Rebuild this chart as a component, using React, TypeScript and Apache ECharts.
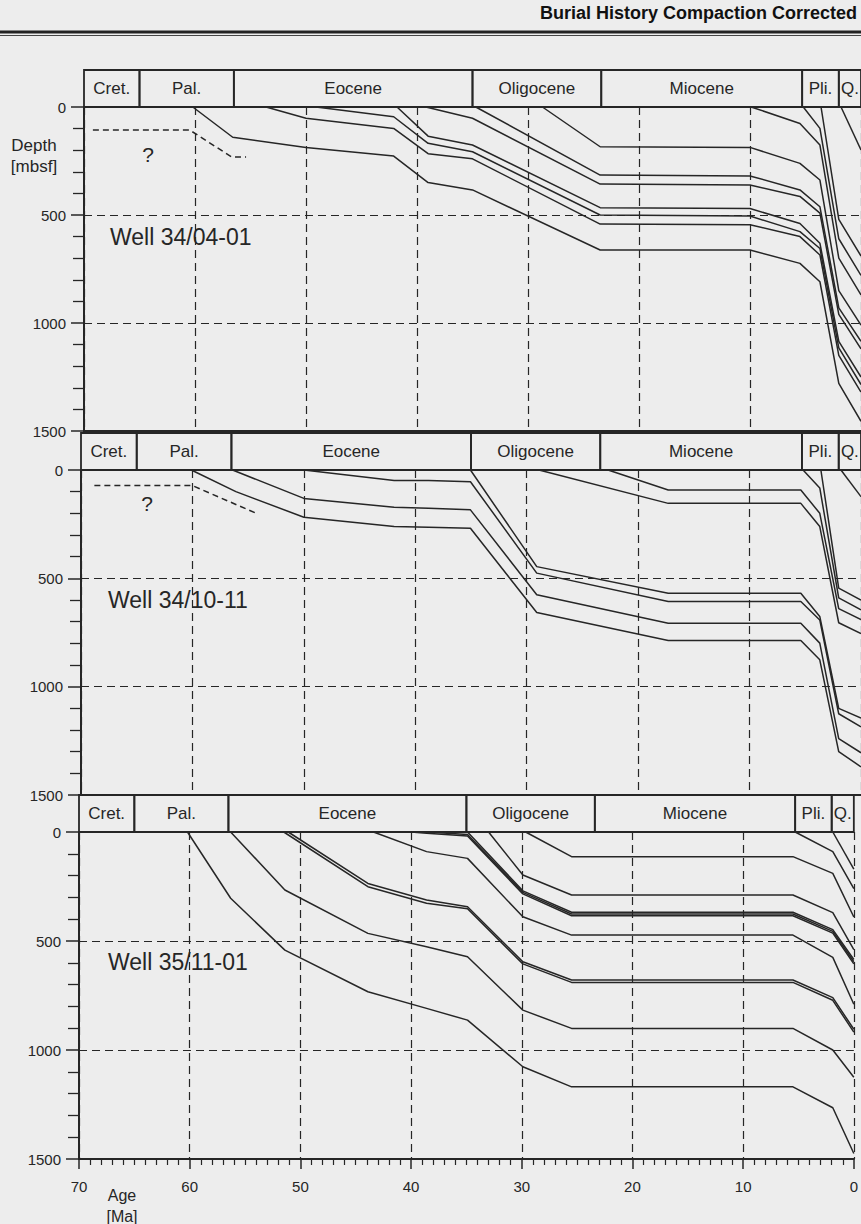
import React, { useEffect, useRef } from 'react';
import * as echarts from 'echarts';

// ---------- data ----------
const epochNames = ['Cret.', 'Pal.', 'Eocene', 'Oligocene', 'Miocene', 'Pli.', 'Q.'];
const epochOlder = [70, 65, 56.5, 35, 23.4, 5.3, 2.0];
const epochYounger = [65, 56.5, 35, 23.4, 5.3, 2.0, 0];

const wellNames = ['Well 34/04-01', 'Well 34/10-11', 'Well 35/11-01'];

// [age Ma, depth mbsf]
const well1Horizons = [
  [[60.2, 0], [56.6, 140], [50, 187], [42.1, 227], [39, 350], [35, 384], [23.5, 662], [10, 662], [5.5, 724], [3.7, 809], [2.0, 1280], [0, 1455]],
  [[53.6, 0], [50, 52], [42.1, 99], [39, 216], [35, 240], [23.5, 542], [10, 545], [5.5, 600], [3.7, 685], [2.0, 1150], [0, 1320]],
  [[49.1, 0], [42.1, 45], [39, 168], [35, 207], [23.5, 500], [10, 505], [5.5, 577], [3.7, 655], [2.0, 1115], [0, 1285]],
  [[41.8, 0], [39, 135], [35, 176], [23.5, 466], [10, 470], [5.5, 539], [3.7, 631], [2.0, 1085], [0, 1250]],
  [[39.2, 0], [35, 52], [23.5, 357], [10, 361], [5.5, 414], [3.7, 491], [2.0, 960], [0, 1120]],
  [[34.7, 0], [23.5, 315], [10, 319], [5.5, 384], [3.7, 462], [2.0, 930], [0, 1085]],
  [[28.7, 0], [23.5, 184], [10, 187], [5.5, 261], [3.7, 338], [2.0, 850], [0, 1010]],
  [[9.9, 0], [5.5, 76], [3.7, 176], [2.0, 700], [0, 870]],
  [[5.2, 0], [3.7, 99], [2.0, 610], [0, 780]],
  [[3.6, 0], [2.0, 520], [0, 690]],
  [[1.8, 0], [0, 199]],
];
const well1Uncertain = [[69.2, 106], [60.5, 106], [56.7, 231], [55.4, 231]];

const well2Horizons = [
  [[60.1, 0], [56.1, 100], [50, 218], [41.9, 261], [38.8, 264], [35.05, 269], [29.1, 658], [17.3, 787], [5.4, 787], [3.7, 876], [2.0, 1300], [0, 1370]],
  [[56.4, 0], [50, 131], [41.9, 172], [38.8, 176], [35.05, 184], [29.1, 576], [17.3, 707], [5.4, 707], [3.7, 799], [2.0, 1240], [0, 1305]],
  [[50, 0], [41.9, 49], [38.8, 49], [35.05, 54], [29.1, 476], [17.3, 607], [5.4, 607], [3.7, 692], [2.0, 1125], [0, 1185]],
  [[35.05, 0], [29.1, 446], [17.3, 569], [5.4, 569], [3.7, 676], [2.0, 1100], [0, 1145]],
  [[28.9, 0], [17.3, 154], [5.4, 154], [3.7, 261], [2.0, 705], [0, 755]],
  [[22.7, 0], [17.3, 92], [5.4, 92], [3.7, 200], [2.0, 640], [0, 690]],
  [[5.2, 0], [3.7, 83], [2.0, 590], [0, 645]],
  [[3.6, 0], [2.0, 545], [0, 600]],
  [[1.8, 0], [0, 123]],
];
const well2Uncertain = [[68.8, 72], [60.0, 72], [54.4, 197]];

const well3Horizons = [
  [[60.2, 0], [56.3, 304], [51.4, 542], [43.9, 733], [38.6, 809], [34.9, 863], [29.9, 1077], [25.5, 1169], [5.5, 1169], [1.9, 1265], [0, 1475]],
  [[56.3, 0], [51.4, 266], [43.9, 465], [38.6, 526], [34.9, 572], [29.9, 817], [25.5, 901], [5.5, 901], [1.9, 1000], [0, 1125]],
  [[51.5, 0], [43.9, 251], [38.6, 327], [34.9, 352], [29.9, 605], [25.5, 690], [5.5, 690], [1.9, 772], [0, 918]],
  [[51.1, 0], [43.9, 236], [38.6, 312], [34.9, 343], [29.9, 595], [25.5, 679], [5.5, 679], [1.9, 760], [0, 905]],
  [[43.4, 0], [38.6, 90], [34.9, 121], [29.9, 389], [25.5, 473], [5.5, 473], [1.9, 575], [0, 790]],
  [[40.0, 0], [38.6, 6], [34.9, 18], [29.9, 284], [25.5, 384], [5.5, 384], [1.9, 464], [0, 605]],
  [[38.6, 0], [34.9, 11], [29.9, 277], [25.5, 376], [5.5, 376], [1.9, 456], [0, 595]],
  [[34.9, 0], [29.9, 270], [25.5, 368], [5.5, 368], [1.9, 448], [0, 585]],
  [[33.0, 0], [29.9, 197], [25.5, 289], [5.5, 289], [1.9, 370], [0, 540]],
  [[29.65, 0], [25.5, 113], [5.5, 113], [1.9, 190], [0, 390]],
  [[5.3, 0], [1.9, 90], [0, 260]],
  [[1.9, 0], [0, 170]],
];

const wells = [
  { horizons: well1Horizons, uncertain: well1Uncertain },
  { horizons: well2Horizons, uncertain: well2Uncertain },
  { horizons: well3Horizons, uncertain: [] as number[][] },
];

// ---------- layout ----------
const INK = '#262626';
const FONT = '"Liberation Sans", Arial, Helvetica, sans-serif';
const HEADER_H = 37;
const panels = [
  { left: 84, top: 107, width: 779, height: 324 },
  { left: 81, top: 470, width: 782, height: 325 },
  { left: 79, top: 832, width: 782, height: 327 },
];
const wellLabelPos = [
  { x: 110, y: 237 },
  { x: 108, y: 600 },
  { x: 108, y: 962 },
];
const questionPos = [
  { x: 148, y: 154 },
  { x: 147, y: 503 },
];

export default function App() {
  const ref = useRef<HTMLDivElement>(null);

  useEffect(() => {
    if (!ref.current) return;
    const chart = echarts.init(ref.current, undefined, { renderer: 'svg' });

    const grid = panels.map((p) => ({ left: p.left, top: p.top, width: p.width, height: p.height }));

    const xAxis = panels.map((_, i) => ({
      gridIndex: i,
      type: 'value',
      min: 0,
      max: 70,
      interval: 10,
      inverse: true,
      axisLine: { show: true, onZero: false, lineStyle: { color: INK, width: 2 } },
      axisTick: { show: i === 2, length: 10, lineStyle: { color: INK, width: 1.5 } },
      minorTick: { show: i === 2, splitNumber: 10, length: 6, lineStyle: { color: INK, width: 1.2 } },
      axisLabel: {
        show: i === 2,
        color: INK,
        fontSize: 15,
        fontFamily: FONT,
        margin: 20,
        formatter: (v: number) => String(v),
      },
      splitLine: { show: true, lineStyle: { color: INK, width: 1.2, type: [8, 5] } },
    }));

    const yAxis = panels.map((_, i) => ({
      gridIndex: i,
      type: 'value',
      min: 0,
      max: 1500,
      interval: 500,
      inverse: true,
      axisLine: { show: true, onZero: false, lineStyle: { color: INK, width: 2 } },
      axisTick: { show: true, length: 13, lineStyle: { color: INK, width: 1.5 } },
      minorTick: { show: true, splitNumber: 5, length: 11, lineStyle: { color: INK, width: 1.3 } },
      axisLabel: {
        show: true,
        color: INK,
        fontSize: 15,
        fontFamily: FONT,
        margin: 18,
        formatter: (v: number) => String(v),
      },
      splitLine: { show: true, lineStyle: { color: INK, width: 1.2, type: [8, 5] } },
    }));

    const series: any[] = [];
    wells.forEach((w, i) => {
      w.horizons.forEach((h, k) => {
        series.push({
          type: 'line',
          name: `h${i}-${k}`,
          xAxisIndex: i,
          yAxisIndex: i,
          data: h,
          symbol: 'none',
          silent: true,
          clip: false,
          z: 4,
          lineStyle: { color: INK, width: 1.5 },
        });
      });
      if (w.uncertain.length) {
        series.push({
          type: 'line',
          xAxisIndex: i,
          yAxisIndex: i,
          data: w.uncertain,
          symbol: 'none',
          silent: true,
          z: 4,
          lineStyle: { color: INK, width: 1.5, type: [6, 4] },
        });
      }
      series.push({
        type: 'custom',
        xAxisIndex: i,
        yAxisIndex: i,
        clip: false,
        silent: true,
        z: 5,
        data: epochOlder.map((o, k) => [o, epochYounger[k]]),
        renderItem: (params: any, api: any) => {
          const p0 = api.coord([api.value(0), 0]);
          const p1 = api.coord([api.value(1), 0]);
          const name = epochNames[params.dataIndex];
          return {
            type: 'group',
            children: [
              {
                type: 'rect',
                shape: { x: p0[0], y: p0[1] - HEADER_H, width: p1[0] - p0[0], height: HEADER_H },
                style: { fill: 'none', stroke: INK, lineWidth: 1.8 },
              },
              {
                type: 'text',
                style: {
                  text: name,
                  x: (p0[0] + p1[0]) / 2,
                  y: p0[1] - HEADER_H / 2,
                  align: 'center',
                  verticalAlign: 'middle',
                  font: `17px ${FONT}`,
                  fill: INK,
                },
              },
            ],
          };
        },
      });
    });

    const graphic: any[] = [
      {
        type: 'text',
        right: 4,
        top: 4,
        style: { text: 'Burial History Compaction Corrected', font: `bold 18px ${FONT}`, fill: '#111' },
      },
      { type: 'line', shape: { x1: 0, y1: 32, x2: 861, y2: 32 }, style: { stroke: '#222', lineWidth: 3 } },
      { type: 'line', shape: { x1: 0, y1: 35.5, x2: 861, y2: 35.5 }, style: { stroke: '#444', lineWidth: 1 } },
      {
        type: 'text',
        x: 34,
        y: 156,
        style: { text: 'Depth\n[mbsf]', font: `17px ${FONT}`, fill: INK, align: 'center', verticalAlign: 'middle', lineHeight: 21 },
      },
      {
        type: 'text',
        x: 122,
        y: 1206,
        style: { text: 'Age\n[Ma]', font: `16px ${FONT}`, fill: INK, align: 'center', verticalAlign: 'middle', lineHeight: 21 },
      },
    ];
    wellNames.forEach((n, i) => {
      graphic.push({
        type: 'text',
        x: wellLabelPos[i].x,
        y: wellLabelPos[i].y,
        style: { text: n, font: `23px ${FONT}`, fill: INK, verticalAlign: 'middle' },
      });
    });
    questionPos.forEach((p) => {
      graphic.push({
        type: 'text',
        x: p.x,
        y: p.y,
        style: { text: '?', font: `21px ${FONT}`, fill: INK, align: 'center', verticalAlign: 'middle' },
      });
    });

    chart.setOption({
      animation: false,
      backgroundColor: '#ededed',
      grid,
      xAxis,
      yAxis,
      series,
      graphic,
    });

    return () => chart.dispose();
  }, []);

  return (
    <div
      ref={ref}
      style={{ position: 'fixed', left: 0, top: 0, width: 861, height: 1224, background: '#ededed' }}
    />
  );
}
